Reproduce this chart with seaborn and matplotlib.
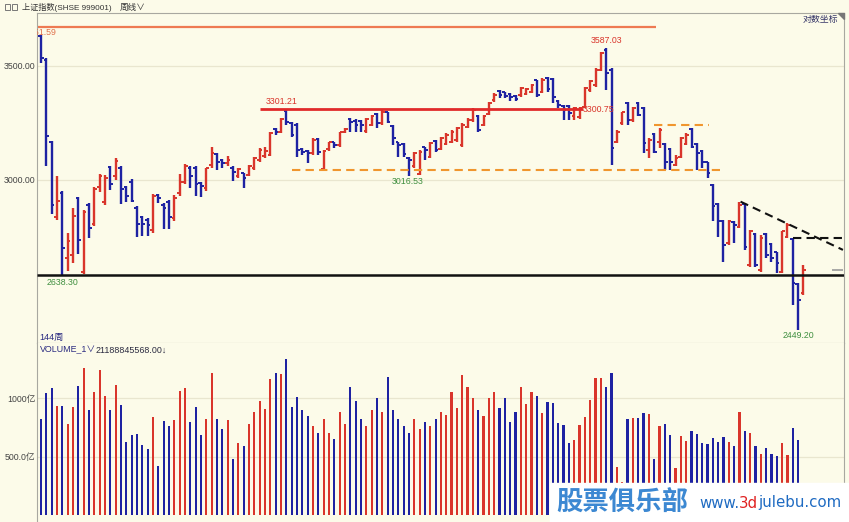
import numpy as np
import pandas as pd
import matplotlib
matplotlib.use("Agg")
import matplotlib.pyplot as plt
import seaborn as sns
from matplotlib.patches import Rectangle, Polygon

# ---------------- data (weekly, 144 weeks) ----------------
opens = [3645, 3530, 3157, 2855, 2947, 2698, 2711, 2927, 2650, 2900,
         2826, 2973, 2913, 3054, 3014, 3048, 2973, 2993, 2887, 2855,
         2842, 2804, 2940, 2900, 2913, 2848, 2947, 2993, 3048, 3048,
         2987, 2967, 3061, 3106, 3082, 3068, 3050, 3014, 3028, 3020,
         3049, 3082, 3099, 3103, 3214, 3201, 3294, 3241, 3232, 3128,
         3120, 3111, 3171, 3045, 3128, 3159, 3145, 3201, 3258, 3250,
         3250, 3205, 3232, 3280, 3241, 3289, 3228, 3159, 3150, 3090,
         3057, 3024, 3136, 3095, 3163, 3128, 3149, 3159, 3167, 3145,
         3223, 3254, 3272, 3232, 3280, 3343, 3384, 3379, 3370, 3361,
         3365, 3370, 3379, 3434, 3379, 3443, 3439, 3339, 3316, 3316,
         3272, 3267, 3309, 3388, 3411, 3481, 3577, 3481, 3159, 3238,
         3329, 3254, 3329, 3307, 3124, 3192, 3160, 3150, 3128, 3061,
         3095, 3149, 3214, 3150, 3120, 3073, 2980, 2904, 2838, 2755,
         2834, 2815, 2904, 2674, 2789, 2656, 2789, 2751, 2722, 2649,
         2778, 2768, 2606, 2575]
highs = [3651.59, 3537, 3163, 3014, 2956, 2791, 2890, 2933, 2881, 2907,
         2971, 3024, 3020, 3058, 3092, 3055, 2976, 3003, 2894, 2858,
         2848, 2943, 2943, 2909, 2920, 2940, 3023, 3064, 3055, 3055,
         2993, 3050, 3138, 3113, 3086, 3100, 3055, 3048, 3030, 3061,
         3096, 3131, 3138, 3203, 3217, 3261, 3301.21, 3245, 3239, 3131,
         3124, 3174, 3174, 3124, 3160, 3160, 3203, 3217, 3261, 3257,
         3254, 3261, 3276, 3283, 3298, 3290, 3232, 3160, 3153, 3093,
         3117, 3124, 3138, 3160, 3167, 3181, 3195, 3210, 3224, 3239,
         3261, 3305, 3276, 3276, 3335, 3373, 3388, 3380, 3374, 3365,
         3403, 3396, 3415, 3434, 3442, 3450, 3445, 3343, 3320, 3320,
         3313, 3313, 3403, 3434, 3489, 3569, 3587.03, 3489, 3210, 3290,
         3335, 3313, 3333, 3313, 3174, 3195, 3217, 3153, 3131, 3103,
         3181, 3195, 3217, 3153, 3124, 3075, 2983, 2909, 2842, 2842,
         2836, 2913, 2907, 2804, 2791, 2785, 2791, 2753, 2723, 2800,
         2829, 2772, 2609, 2674]
lows = [3513, 3055, 2864, 2842, 2638.30, 2652, 2680, 2714, 2640, 2772,
        2819, 2953, 2900, 2960, 3000, 2903, 2913, 2911, 2778, 2782,
        2781, 2791, 2909, 2808, 2808, 2836, 2937, 2983, 2967, 2937,
        2930, 2956, 3050, 3041, 3050, 3055, 2996, 3009, 2967, 3014,
        3041, 3075, 3089, 3099, 3188, 3195, 3232, 3180, 3096, 3103,
        3068, 3103, 3103, 3041, 3121, 3131, 3138, 3195, 3203, 3203,
        3203, 3195, 3225, 3217, 3232, 3239, 3145, 3096, 3093, 3016.53,
        3048, 3020, 3082, 3089, 3117, 3124, 3145, 3153, 3160, 3138,
        3217, 3246, 3203, 3225, 3276, 3335, 3350, 3350, 3340, 3338,
        3358, 3365, 3374, 3356, 3374, 3380, 3328, 3305, 3254, 3254,
        3254, 3258, 3305, 3380, 3403, 3474, 3388, 3061, 3153, 3232,
        3232, 3246, 3269, 3110, 3089, 3110, 3131, 3041, 3041, 3055,
        3089, 3145, 3131, 3041, 3048, 3007, 2836, 2778, 2686, 2748,
        2753, 2810, 2729, 2668, 2668, 2650, 2698, 2686, 2644, 2644,
        2772, 2533, 2449.20, 2568]
closes = [3537, 3185, 2900, 2917, 2737, 2762, 2858, 2766, 2874, 2810,
          2964, 3014, 3009, 2983, 3078, 2964, 2937, 2916, 2826, 2826,
          2822, 2937, 2927, 2887, 2853, 2927, 2993, 3055, 3014, 2983,
          2976, 3048, 3110, 3072, 3068, 3082, 3034, 3045, 3008, 3057,
          3091, 3124, 3120, 3197, 3201, 3258, 3246, 3188, 3124, 3117,
          3110, 3167, 3117, 3121, 3156, 3145, 3200, 3214, 3246, 3232,
          3232, 3258, 3273, 3239, 3290, 3246, 3174, 3145, 3107, 3082,
          3110, 3117, 3124, 3153, 3124, 3174, 3188, 3203, 3217, 3232,
          3254, 3298, 3210, 3272, 3328, 3365, 3365, 3361, 3356, 3347,
          3397, 3393, 3411, 3365, 3434, 3393, 3358, 3320, 3298, 3285,
          3307, 3307, 3396, 3429, 3481, 3561, 3466, 3131, 3203, 3288,
          3254, 3305, 3276, 3153, 3167, 3117, 3210, 3075, 3075, 3089,
          3174, 3188, 3138, 3110, 3075, 3027, 2894, 2836, 2748, 2836,
          2823, 2900, 2741, 2798, 2674, 2772, 2711, 2698, 2680, 2798,
          2823, 2609, 2550, 2656]
# weekly volume, 亿
volumes = [820, 1048, 1086, 934, 934, 777, 923, 1106, 1262, 900,
           1054, 1245, 1020, 900, 1111, 945, 623, 686, 691, 600,
           566, 843, 423, 803, 763, 814, 1060, 1091, 797, 926,
           683, 820, 1214, 820, 734, 814, 480, 617, 591, 780,
           880, 974, 911, 1163, 1214, 1208, 1334, 923, 1014,
           900, 850, 760, 700, 820, 700, 650, 880, 780, 1100,
           980, 820, 760, 900, 1000, 880, 1180, 900, 820, 760,
           700, 820, 740, 800, 760, 820, 880, 860, 1050, 920,
           1200, 1100, 1000, 900, 850, 1000, 1050, 920, 1000, 800,
           880, 1100, 950, 1050, 1020,
           877, 971, 957, 786, 771, 620, 643, 771, 837, 986,
           1172, 1172, 1094, 1214, 414, 285, 820, 829, 834, 877,
           866, 477, 763, 780, 686, 400, 677, 637, 722, 694,
           620, 606, 657, 628, 671, 628, 591, 885, 722, 700,
           591, 520, 572, 523, 506, 614, 514, 743, 643, 250]
price_ticks = [3000, 3500]
price_tick_labels = ["3000.00", "3500.00"]
vol_ticks = [500, 1000]
vol_tick_labels = ["500.0亿", "1000亿"]

# ---------------- style ----------------
W, H = 849, 522
BG = "#FCFBE9"
RED = "#D9352B"
BLUE = "#1E22A2"
GREEN = "#3F8F3F"
GRID = "#E9E6CF"
SPINE = "#A8A8A0"

sns.set_theme(style="white")
plt.rcParams["font.family"] = ["Liberation Sans", "Noto Sans CJK SC", "DejaVu Sans"]

fig = plt.figure(figsize=(W / 100, H / 100), dpi=100, facecolor=BG)


def fx(x):
    return x / W


def fy(y):
    return 1 - y / H


axp = fig.add_axes([fx(37), fy(343), fx(844) - fx(37), fy(13) - fy(343)], facecolor=BG)
axv = fig.add_axes([fx(37), fy(522), fx(844) - fx(37), fy(343) - fy(522)], facecolor=BG)

n = len(closes)
idx = np.arange(n)
o = np.array(opens, float)
h = np.array(highs, float)
l = np.array(lows, float)
c = np.array(closes, float)
up = c >= o
cols = np.where(up, RED, BLUE)

# ---- price panel (OHLC bars) ----
axp.set_yscale("log")
axp.set_ylim(2406, 3760)
axp.set_xlim(-0.75, 150.6)
axp.vlines(idx, l, h, colors=cols, lw=1.7, zorder=3)
axp.hlines(o, idx - 0.5, idx, colors=cols, lw=1.4, zorder=3)
axp.hlines(c, idx, idx + 0.5, colors=cols, lw=1.4, zorder=3)

axp.set_yticks(price_ticks)
axp.set_yticklabels(price_tick_labels)
axp.yaxis.set_minor_locator(matplotlib.ticker.NullLocator())
axp.set_xticks([])
axp.tick_params(axis="y", length=0, pad=1, labelsize=6.3, labelcolor="#444444")
axp.grid(axis="y", color=GRID, lw=0.9)
axp.grid(axis="x", visible=False)
for s in ["left", "top", "right", "bottom"]:
    axp.spines[s].set_color(SPINE)
    axp.spines[s].set_linewidth(0.8)

# drawn lines
axp.hlines(3690, -0.75, 115.3, color="#EE7A52", lw=1.6, zorder=2)
axp.hlines(3301.21, 41, 101.6, color="#E02A2A", lw=2.0, zorder=4)
axp.hlines(3041, 47, 127.3, color="#F0962E", lw=1.5, linestyles=(0, (4, 2.5)), zorder=4)
axp.hlines(3230, 115, 125.3, color="#F0962E", lw=1.5, linestyles=(0, (4, 2.5)), zorder=4)
axp.hlines(2638.30, -0.75, 150.6, color="#111111", lw=1.8, zorder=4)
axp.plot([131.2, 150.4], [2913, 2729], color="#111111", lw=1.5, ls=(0, (4, 2.5)), zorder=4)
axp.hlines(2772, 141, 150.4, color="#111111", lw=1.5, linestyles=(0, (4, 2.5)), zorder=4)
axp.hlines(c[-1], 148.4, 150.4, color="#9A9A9A", lw=1.2, zorder=4)

# value annotations
ann = dict(fontsize=6.3, zorder=5, annotation_clip=False)
axp.annotate("3651.59", xy=(0, 3651.59), xytext=(0, -2), textcoords="offset points",
             ha="center", va="bottom", color="#E0704A", clip_on=True, **ann)
axp.annotate("3587.03", xy=(106, 3587.03), xytext=(0, 2), textcoords="offset points",
             ha="center", va="bottom", color=RED, **ann)
axp.annotate("3301.21", xy=(45.2, 3301.21), xytext=(0, 2), textcoords="offset points",
             ha="center", va="bottom", color=RED, **ann)
axp.annotate("3300.75", xy=(101.5, 3300.75), xytext=(0, 0), textcoords="offset points",
             ha="left", va="center", color=RED, **ann)
axp.annotate("2638.30", xy=(4, 2638.30), xytext=(0, -2), textcoords="offset points",
             ha="center", va="top", color=GREEN, **ann)
axp.annotate("3016.53", xy=(68.7, 3016.53), xytext=(0, -1), textcoords="offset points",
             ha="center", va="top", color=GREEN, **ann)
axp.annotate("2449.20", xy=(142, 2449.20), xytext=(0, -1), textcoords="offset points",
             ha="center", va="top", color=GREEN, **ann)

# ---- volume panel ----
df = pd.DataFrame({"week": idx, "vol": volumes, "dir": np.where(up, "up", "down")})
sns.barplot(data=df, x="week", y="vol", hue="dir", palette={"up": RED, "down": BLUE},
            native_scale=True, dodge=False, width=0.4, errorbar=None, saturation=1,
            legend=False, ax=axv, zorder=3, linewidth=0)
axv.set_xlim(-0.75, 150.6)
axv.set_ylim(-60, 1474)
axv.set_xlabel("")
axv.set_ylabel("")
axv.set_xticks([])
axv.set_yticks(vol_ticks)
axv.set_yticklabels(vol_tick_labels)
axv.tick_params(axis="y", length=0, pad=1, labelsize=6.3, labelcolor="#444444")
axv.grid(axis="y", color=GRID, lw=0.9)
axv.grid(axis="x", visible=False)
for s in ["top", "bottom"]:
    axv.spines[s].set_visible(False)
for s in ["left", "right"]:
    axv.spines[s].set_color(SPINE)
    axv.spines[s].set_linewidth(0.8)

# ---- header and labels ----
fig.add_artist(Rectangle((fx(5), fy(10)), fx(5), fy(4) - fy(10), fill=False,
                         ec="#777777", lw=0.7, transform=fig.transFigure))
fig.add_artist(Rectangle((fx(12), fy(10)), fx(5), fy(4) - fy(10), fill=False,
                         ec="#777777", lw=0.7, transform=fig.transFigure))
fig.text(fx(22), fy(7), "上证指数(SHSE 999001)", fontsize=5.9, color="#333333",
         ha="left", va="center")
fig.text(fx(120), fy(7), "周线∨", fontsize=6.2, color="#333333", ha="left", va="center")
fig.text(fx(838), fy(19), "对数坐标", fontsize=6.4, color="#333366", ha="right", va="center")
fig.add_artist(Polygon([[fx(838), fy(13)], [fx(844), fy(13)], [fx(844), fy(19)]],
                       closed=True, color="#777777", transform=fig.transFigure))
fig.text(fx(39), fy(337), "144周", fontsize=6.6, color="#2A2A80", ha="left", va="center")
fig.text(fx(40), fy(350), "VOLUME_1∨", fontsize=6.4, color="#2A2A80", ha="left", va="center")
fig.text(fx(96), fy(350), "21188845568.00↓", fontsize=6.4, color="#2A2A40",
         ha="left", va="center")

# ---- watermark ----
fig.add_artist(Rectangle((fx(550), 0), 1 - fx(550), fy(483), color="white",
                         transform=fig.transFigure, zorder=10))
fig.text(fx(556), fy(503), "股票俱乐部", fontsize=19, fontweight="heavy",
         color="#3C88D2", ha="left", va="center", zorder=11,
         family=["Noto Sans CJK SC"])
renderer = fig.canvas.get_renderer()
wm_x = 699
for part, colr in [("www.", "#1F6BC2"), ("3d", "#E02222"), ("julebu.com", "#1F6BC2")]:
    t = fig.text(fx(wm_x), fy(503), part, fontsize=10.8, color=colr, ha="left",
                 va="center", zorder=11, family=["DejaVu Sans"])
    wm_x += t.get_window_extent(renderer).width

fig.savefig("out.png", dpi=100, facecolor=BG)
